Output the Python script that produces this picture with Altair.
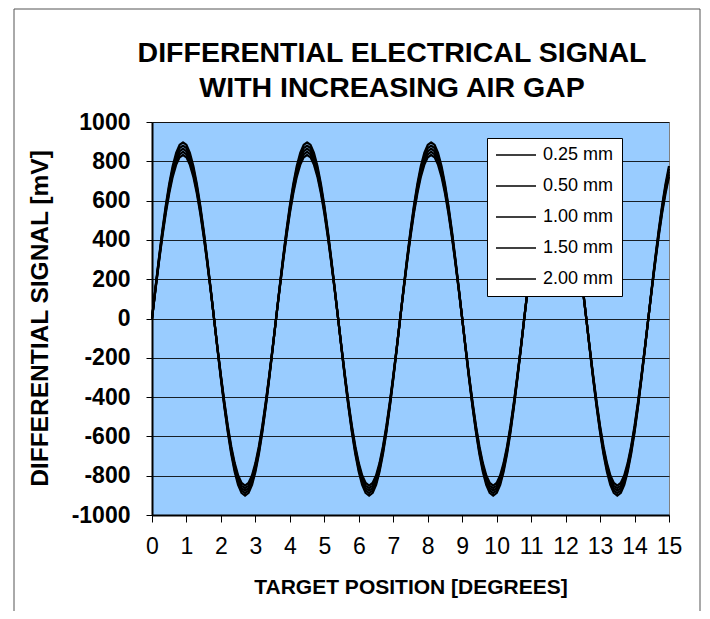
import altair as alt
import pandas as pd

# Sample positions (degrees)
x_deg = [0.0, 0.1, 0.2, 0.3, 0.4, 0.5, 0.6, 0.7, 0.8, 0.9, 1.0, 1.1, 1.2, 1.3, 1.4, 1.5, 1.6, 1.7, 1.8, 1.9,
         2.0, 2.1, 2.2, 2.3, 2.4, 2.5, 2.6, 2.7, 2.8, 2.9, 3.0, 3.1, 3.2, 3.3, 3.4, 3.5, 3.6, 3.7, 3.8, 3.9,
         4.0, 4.1, 4.2, 4.3, 4.4, 4.5, 4.6, 4.7, 4.8, 4.9, 5.0, 5.1, 5.2, 5.3, 5.4, 5.5, 5.6, 5.7, 5.8, 5.9,
         6.0, 6.1, 6.2, 6.3, 6.4, 6.5, 6.6, 6.7, 6.8, 6.9, 7.0, 7.1, 7.2, 7.3, 7.4, 7.5, 7.6, 7.7, 7.8, 7.9,
         8.0, 8.1, 8.2, 8.3, 8.4, 8.5, 8.6, 8.7, 8.8, 8.9, 9.0, 9.1, 9.2, 9.3, 9.4, 9.5, 9.6, 9.7, 9.8, 9.9,
         10.0, 10.1, 10.2, 10.3, 10.4, 10.5, 10.6, 10.7, 10.8, 10.9, 11.0, 11.1, 11.2, 11.3, 11.4, 11.5,
         11.6, 11.7, 11.8, 11.9, 12.0, 12.1, 12.2, 12.3, 12.4, 12.5, 12.6, 12.7, 12.8, 12.9, 13.0, 13.1,
         13.2, 13.3, 13.4, 13.5, 13.6, 13.7, 13.8, 13.9, 14.0, 14.1, 14.2, 14.3, 14.4, 14.5, 14.6, 14.7,
         14.8, 14.9, 15.0]

gap_025 = [
    0, 156, 306, 448, 576, 686, 776, 842, 883, 896, 883, 842, 776, 686, 576, 448, 306, 156,
    0, -157, -308, -451, -580, -691, -781, -848, -888, -902, -888, -848, -781, -691, -580, -451, -308, -157,
    0, 156, 306, 448, 576, 686, 776, 842, 883, 896, 883, 842, 776, 686, 576, 448, 306, 156,
    0, -157, -308, -451, -580, -691, -781, -848, -888, -902, -888, -848, -781, -691, -580, -451, -308, -157,
    0, 156, 306, 448, 576, 686, 776, 842, 883, 896, 883, 842, 776, 686, 576, 448, 306, 156,
    0, -157, -308, -451, -580, -691, -781, -848, -888, -902, -888, -848, -781, -691, -580, -451, -308, -157,
    0, 156, 306, 448, 576, 686, 776, 842, 883, 896, 883, 842, 776, 686, 576, 448, 306, 156,
    0, -157, -308, -451, -580, -691, -781, -848, -888, -902, -888, -848, -781, -691, -580, -451, -308, -157,
    0, 156, 306, 448, 576, 686, 776]
gap_050 = [
    0, 153, 301, 440, 566, 674, 762, 827, 867, 880, 867, 827, 762, 674, 566, 440, 301, 153,
    0, -155, -304, -445, -572, -681, -770, -836, -876, -889, -876, -836, -770, -681, -572, -445, -304, -155,
    0, 153, 301, 440, 566, 674, 762, 827, 867, 880, 867, 827, 762, 674, 566, 440, 301, 153,
    0, -155, -304, -445, -572, -681, -770, -836, -876, -889, -876, -836, -770, -681, -572, -445, -304, -155,
    0, 153, 301, 440, 566, 674, 762, 827, 867, 880, 867, 827, 762, 674, 566, 440, 301, 153,
    0, -155, -304, -445, -572, -681, -770, -836, -876, -889, -876, -836, -770, -681, -572, -445, -304, -155,
    0, 153, 301, 440, 566, 674, 762, 827, 867, 880, 867, 827, 762, 674, 566, 440, 301, 153,
    0, -155, -304, -445, -572, -681, -770, -836, -876, -889, -876, -836, -770, -681, -572, -445, -304, -155,
    0, 153, 301, 440, 566, 674, 762]
gap_100 = [
    0, 150, 295, 432, 556, 662, 748, 812, 851, 864, 851, 812, 748, 662, 556, 432, 295, 150,
    0, -152, -300, -438, -563, -671, -759, -823, -863, -876, -863, -823, -759, -671, -563, -438, -300, -152,
    0, 150, 295, 432, 556, 662, 748, 812, 851, 864, 851, 812, 748, 662, 556, 432, 295, 150,
    0, -152, -300, -438, -563, -671, -759, -823, -863, -876, -863, -823, -759, -671, -563, -438, -300, -152,
    0, 150, 295, 432, 556, 662, 748, 812, 851, 864, 851, 812, 748, 662, 556, 432, 295, 150,
    0, -152, -300, -438, -563, -671, -759, -823, -863, -876, -863, -823, -759, -671, -563, -438, -300, -152,
    0, 150, 295, 432, 556, 662, 748, 812, 851, 864, 851, 812, 748, 662, 556, 432, 295, 150,
    0, -152, -300, -438, -563, -671, -759, -823, -863, -876, -863, -823, -759, -671, -563, -438, -300, -152,
    0, 150, 295, 432, 556, 662, 748]
gap_150 = [
    0, 148, 290, 424, 545, 650, 734, 797, 835, 848, 835, 797, 734, 650, 545, 424, 290, 148,
    0, -150, -295, -432, -555, -661, -747, -811, -850, -863, -850, -811, -747, -661, -555, -432, -295, -150,
    0, 148, 290, 424, 545, 650, 734, 797, 835, 848, 835, 797, 734, 650, 545, 424, 290, 148,
    0, -150, -295, -432, -555, -661, -747, -811, -850, -863, -850, -811, -747, -661, -555, -432, -295, -150,
    0, 148, 290, 424, 545, 650, 734, 797, 835, 848, 835, 797, 734, 650, 545, 424, 290, 148,
    0, -150, -295, -432, -555, -661, -747, -811, -850, -863, -850, -811, -747, -661, -555, -432, -295, -150,
    0, 148, 290, 424, 545, 650, 734, 797, 835, 848, 835, 797, 734, 650, 545, 424, 290, 148,
    0, -150, -295, -432, -555, -661, -747, -811, -850, -863, -850, -811, -747, -661, -555, -432, -295, -150,
    0, 148, 290, 424, 545, 650, 734]
gap_200 = [
    0, 145, 285, 416, 535, 637, 721, 782, 820, 832, 820, 782, 721, 637, 535, 416, 285, 145,
    0, -148, -291, -425, -547, -651, -736, -799, -837, -850, -837, -799, -736, -651, -547, -425, -291, -148,
    0, 145, 285, 416, 535, 637, 721, 782, 820, 832, 820, 782, 721, 637, 535, 416, 285, 145,
    0, -148, -291, -425, -547, -651, -736, -799, -837, -850, -837, -799, -736, -651, -547, -425, -291, -148,
    0, 145, 285, 416, 535, 637, 721, 782, 820, 832, 820, 782, 721, 637, 535, 416, 285, 145,
    0, -148, -291, -425, -547, -651, -736, -799, -837, -850, -837, -799, -736, -651, -547, -425, -291, -148,
    0, 145, 285, 416, 535, 637, 721, 782, 820, 832, 820, 782, 721, 637, 535, 416, 285, 145,
    0, -148, -291, -425, -547, -651, -736, -799, -837, -850, -837, -799, -736, -651, -547, -425, -291, -148,
    0, 145, 285, 416, 535, 637, 721]

series_names = ["0.25 mm", "0.50 mm", "1.00 mm", "1.50 mm", "2.00 mm"]
series_values = [gap_025, gap_050, gap_100, gap_150, gap_200]

x_ticks = list(range(0, 16))
y_ticks = [-1000, -800, -600, -400, -200, 0, 200, 400, 600, 800, 1000]

title_lines = ["DIFFERENTIAL ELECTRICAL SIGNAL", "WITH INCREASING AIR GAP"]

rows = []
for name, vals in zip(series_names, series_values):
    for i, (xv, yv) in enumerate(zip(x_deg, vals)):
        rows.append({"x": xv, "v": yv, "gap": name, "order": i})
df = pd.DataFrame(rows)

FONT = "Liberation Sans"

lines = alt.Chart(df).mark_line(strokeWidth=2.2, strokeJoin="round").encode(
    x=alt.X("x:Q",
            scale=alt.Scale(domain=[0, 15], nice=False, zero=False),
            axis=alt.Axis(values=x_ticks, labelExpr="toString(datum.value)", grid=False,
                          labelOverlap=False, labelBound=False, labelFlush=False,
                          labelFontSize=23, labelFont=FONT, labelColor="black",
                          labelPadding=13, tickSize=7, tickColor="black",
                          domainColor="black", domainWidth=2,
                          title="TARGET POSITION [DEGREES]", titleFont=FONT,
                          titleFontSize=21, titleFontWeight="bold", titleColor="black",
                          titleX=258.5, titleY=78, titleBaseline="alphabetic",
                          titleAlign="center")),
    y=alt.Y("v:Q",
            scale=alt.Scale(domain=[-1000, 1000], nice=False),
            axis=alt.Axis(values=y_ticks, labelExpr="toString(datum.value)", grid=True,
                          gridColor="black", gridWidth=1, gridOpacity=0.85,
                          labelOverlap=False, labelFlush=False,
                          labelFontSize=23, labelFont=FONT, labelFontWeight="bold",
                          labelColor="black", labelPadding=16, tickSize=6,
                          tickColor="black", domainColor="black", domainWidth=2,
                          title="DIFFERENTIAL SIGNAL [mV]", titleFont=FONT,
                          titleFontSize=24.5, titleFontWeight="bold", titleColor="black",
                          titleX=-112, titleY=196, titleAngle=270,
                          titleAlign="center", titleBaseline="middle")),
    color=alt.Color("gap:N",
                    scale=alt.Scale(domain=series_names, range=["black"] * 5),
                    legend=alt.Legend(title=None, orient="none", legendX=335, legendY=16,
                                      fillColor="white", strokeColor="black",
                                      padding=8, symbolType="stroke", symbolSize=1600,
                                      symbolStrokeWidth=1.5, symbolStrokeColor="black",
                                      symbolOpacity=1, labelFontSize=18, clipHeight=18,
                                      labelFont=FONT, labelColor="black", labelOffset=6,
                                      rowPadding=13)),
    order="order:Q",
)

frame = alt.Chart(pd.DataFrame({"a": [0]})).mark_rect(
    fillOpacity=0, stroke="#555555", strokeWidth=1
).encode(
    x=alt.value(-138), x2=alt.value(548), y=alt.value(-113), y2=alt.value(520)
)

title1 = alt.Chart(pd.DataFrame({"t": [title_lines[0]]})).mark_text(
    font=FONT, fontSize=28.5, fontWeight="bold", color="black",
    align="center", baseline="alphabetic"
).encode(text="t:N", x=alt.value(240), y=alt.value(-60))

title2 = alt.Chart(pd.DataFrame({"t": [title_lines[1]]})).mark_text(
    font=FONT, fontSize=28.5, fontWeight="bold", color="black",
    align="center", baseline="alphabetic"
).encode(text="t:N", x=alt.value(240), y=alt.value(-25))

chart = alt.layer(frame, title1, title2, lines).properties(
    width=517, height=393,
    autosize=alt.AutoSizeParams(type="none"),
    padding={"left": 144, "top": 114, "right": 33, "bottom": 96},
    background="white",
).configure_view(fill="#99CCFF", stroke="#808080", strokeWidth=1)

chart.save("out.html", embed_options={"renderer": "svg", "actions": False})
